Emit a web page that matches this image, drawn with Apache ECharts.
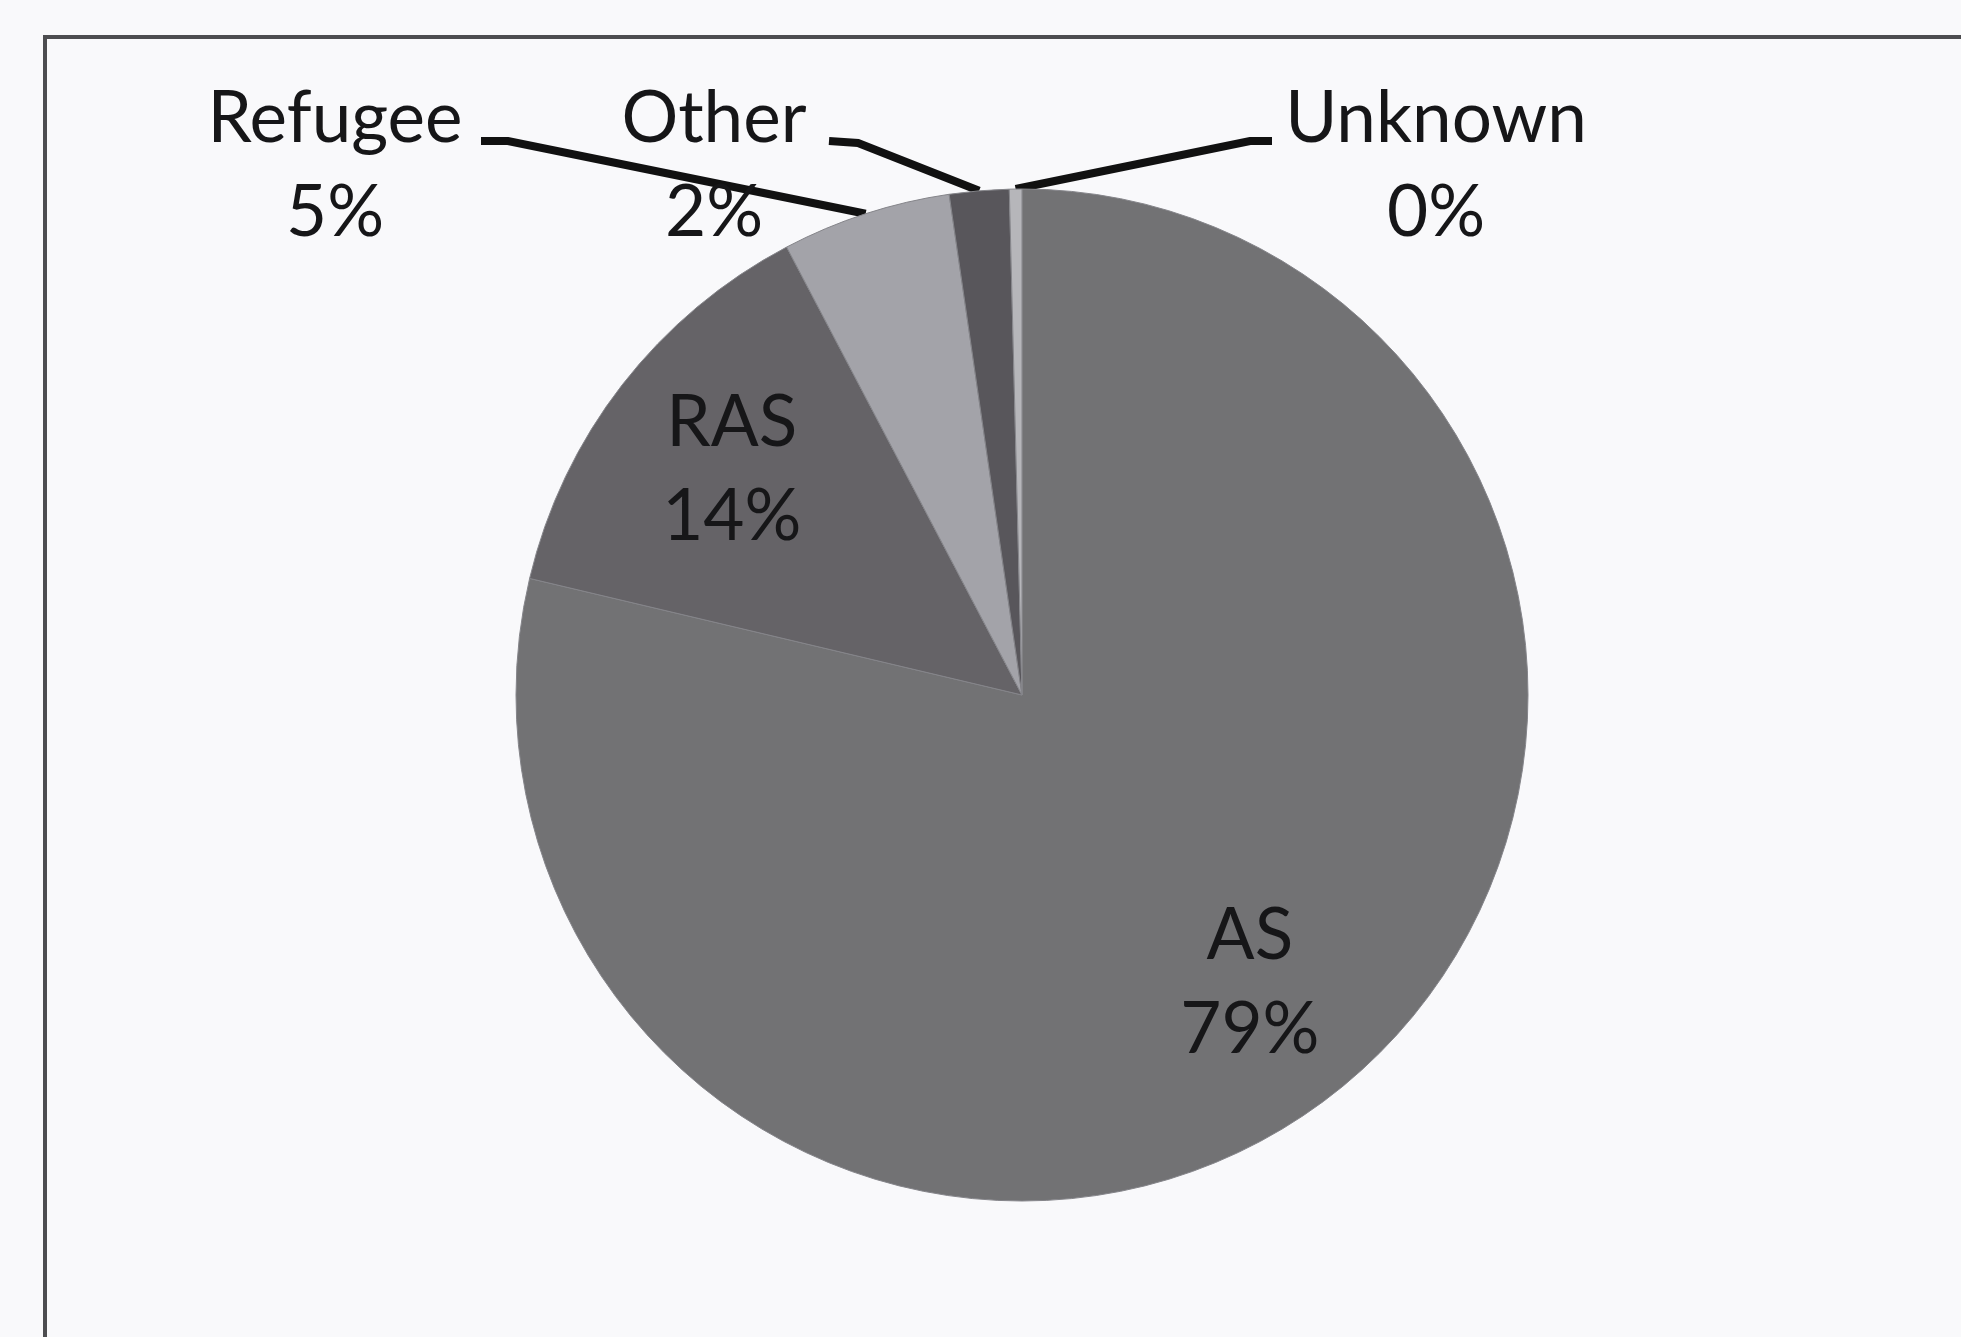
<!DOCTYPE html>
<html>
<head>
<meta charset="utf-8">
<script src="https://cdn.jsdelivr.net/npm/echarts@6/dist/echarts.min.js"></script>
<style>
html,body{margin:0;padding:0;background:#f9f9fb;}
#chart{width:1961px;height:1337px;}
</style>
</head>
<body>
<div id="chart"></div>
<script>
// ---- data ----
const categories = ['AS', 'RAS', 'Refugee', 'Other', 'Unknown'];
const values = [78.7, 13.6, 5.4, 1.9, 0.4];
const sliceColors = ['#727274', '#656367', '#a3a3a9', '#58565b', '#b6b6ba'];
const insideLabelled = ['AS', 'RAS'];

// ---- layout (pixels) ----
const CX = 1022, CY = 695, R = 506;
const FONT = 'Lato, "Open Sans", sans-serif';
const outsideLayout = {
  Refugee: { x: 335, y: 166, end: [481, 141], elbow: [508, 141] },
  Other:   { x: 714, y: 166, end: [829, 141], elbow: [858, 143] },
  Unknown: { x: 1436, y: 166, end: [1272, 141], elbow: [1250, 141] }
};

const total = values.reduce((a, b) => a + b, 0);
function edgePoint(idx) {
  let before = 0;
  for (let i = 0; i < idx; i++) before += values[i];
  const mid = (before + values[idx] / 2) / total * 2 * Math.PI;
  return [CX + R * Math.sin(mid), CY - R * Math.cos(mid)];
}

const chart = echarts.init(document.getElementById('chart'));

const lineStyle = { color: '#111111', width: 8 };

const pieData = categories.map((c, i) => ({
  name: c,
  value: values[i],
  itemStyle: { color: sliceColors[i] },
  label: { show: !!outsideLayout[c] },
  labelLine: { show: !!outsideLayout[c], lineStyle: lineStyle }
}));

const labelData = categories.map((c, i) => ({
  name: c,
  value: values[i],
  label: { show: insideLabelled.indexOf(c) >= 0 }
}));

const fmt = p => p.name + '\n' + Math.round(p.percent) + '%';

chart.setOption({
  backgroundColor: '#f9f9fb',
  animation: false,
  graphic: [{
    type: 'rect',
    z: -10,
    shape: { x: 45, y: 37, width: 2100, height: 1500 },
    style: { fill: 'none', stroke: '#4d4d50', lineWidth: 4 }
  }],
  series: [
    {
      type: 'pie',
      center: [CX, CY],
      radius: [0, R],
      startAngle: 90,
      clockwise: true,
      avoidLabelOverlap: false,
      silent: true,
      data: pieData,
      itemStyle: { borderColor: '#85858a', borderWidth: 1 },
      label: {
        position: 'outside',
        formatter: fmt,
        fontFamily: FONT,
        fontSize: 71,
        lineHeight: 94,
        color: '#161618',
        align: 'center'
      },
      labelLine: {
        show: true,
        lineStyle: lineStyle
      },
      labelLayout: function (params) {
        const name = categories[params.dataIndex];
        const L = outsideLayout[name];
        if (!L) return {};
        return {
          x: L.x,
          y: L.y,
          align: 'center',
          verticalAlign: 'middle',
          labelLinePoints: [edgePoint(params.dataIndex), L.elbow, L.end]
        };
      }
    },
    {
      type: 'pie',
      center: [CX, CY],
      radius: [0, R * 1.44],
      startAngle: 90,
      clockwise: true,
      silent: true,
      z: 5,
      data: labelData,
      itemStyle: { color: 'rgba(0,0,0,0)', borderWidth: 0 },
      label: {
        position: 'inside',
        formatter: fmt,
        fontFamily: FONT,
        fontSize: 71,
        lineHeight: 94,
        color: '#161618',
        align: 'center'
      },
      labelLine: { show: false }
    }
  ]
});
</script>
</body>
</html>
